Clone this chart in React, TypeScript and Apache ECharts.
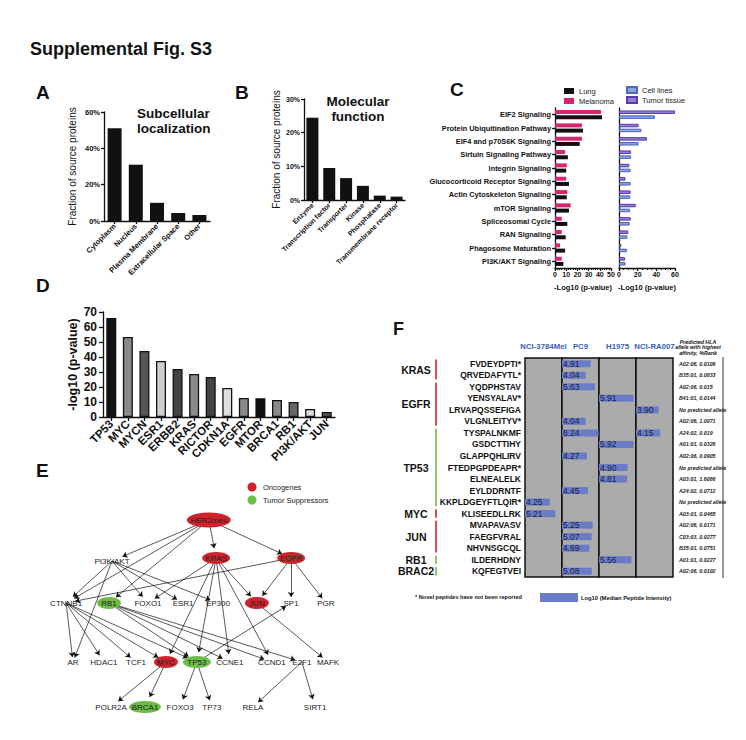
import React, { useEffect, useRef } from 'react';
import * as echarts from 'echarts';

const FONT = '"Liberation Sans", Arial, Helvetica, sans-serif';

// ---------- Panel A ----------
const locCategories = ['Cytoplasm', 'Nucleus', 'Plasma Membrane', 'Extracellular Space', 'Other'];
const locValues = [0.51, 0.31, 0.10, 0.044, 0.033];

// ---------- Panel B ----------
const funcCategories = ['Enzyme', 'Transcription factor', 'Transporter', 'Kinase', 'Phosphatase', 'Transmembrane receptor'];
const funcValues = [0.244, 0.095, 0.065, 0.042, 0.013, 0.010];

// ---------- Panel C ----------
const pathways = [
  'EIF2 Signaling', 'Protein Ubiquitination Pathway', 'EIF4 and p70S6K Signaling', 'Sirtuin Signaling Pathway',
  'Integrin Signaling', 'Glucocorticoid Receptor Signaling', 'Actin Cytoskeleton Signaling', 'mTOR Signaling',
  'Spliceosomal Cycle', 'RAN Signaling', 'Phagosome Maturation', 'PI3K/AKT Signaling',
];
const lungValues = [42, 25, 22, 11.5, 10, 12.5, 10.5, 12.5, 11, 9.5, 9, 7.5];
const melanomaValues = [41, 24, 24, 9, 10.5, 10, 11, 14, 6, 6, 4.5, 6];
const cellLineValues = [38.5, 24, 21, 13, 12.5, 12.5, 12, 12, 11.5, 9, 8.5, 7];
const tumorTissueValues = [60, 21, 30, 13, 11, 7, 12.5, 18, 12.5, 10, 2.5, 6.5];

// ---------- Panel D ----------
const genes = ['TP53', 'MYC', 'MYCN', 'ESR1', 'ERBB2', 'KRAS', 'RICTOR', 'CDKN1A', 'EGFR', 'MTOR', 'BRCA1', 'RB1', 'PI3K/AKT', 'JUN'];
const geneValues = [66, 53.3, 44, 37.3, 32, 28.7, 26.7, 19.3, 12.7, 12.5, 11.3, 10, 5.3, 3.3];
const geneBarColors = ['#111', '#8a8a8a', '#555', '#cfcfcf', '#444', '#8a8a8a', '#444', '#dedede', '#8a8a8a', '#111', '#8a8a8a', '#666', '#dedede', '#555'];

// ---------- Panel E (network: name, column position, level position, kind) ----------
const networkNodes: [string, number, number, string][] = [
  ['HER2/neu', 56.3, 5, 'onc'],
  ['PI3K/AKT', 24, 25.5, 'none'],
  ['KRAS', 58.7, 24, 'onc'],
  ['EGFR', 83.7, 24, 'onc'],
  ['CTNNB1', 8.7, 46.5, 'none'],
  ['RB1', 23, 46.5, 'sup'],
  ['FOXO1', 36, 46.5, 'none'],
  ['ESR1', 47.7, 46.5, 'none'],
  ['EP300', 59.3, 46.5, 'none'],
  ['JUN', 72.3, 46.5, 'onc'],
  ['SP1', 83.7, 46.5, 'none'],
  ['PGR', 95.3, 46.5, 'none'],
  ['AR', 11, 76, 'none'],
  ['HDAC1', 21.3, 76, 'none'],
  ['TCF1', 32, 76, 'none'],
  ['MYC', 42, 76, 'onc'],
  ['TP53', 52.3, 76, 'sup'],
  ['CCNE1', 63.3, 76, 'none'],
  ['CCND1', 77.3, 76, 'none'],
  ['E2F1', 87.3, 76, 'none'],
  ['MAFK', 96, 76, 'none'],
  ['POLR2A', 23.7, 98.5, 'none'],
  ['BRCA1', 35, 98.5, 'sup'],
  ['FOXO3', 46.7, 98.5, 'none'],
  ['TP73', 57.3, 98.5, 'none'],
  ['RELA', 71, 98.5, 'none'],
  ['SIRT1', 91.7, 98.5, 'none'],
];
const networkLinks: [string, string][] = [
  ['HER2/neu', 'PI3K/AKT'], ['HER2/neu', 'CTNNB1'], ['HER2/neu', 'RB1'], ['HER2/neu', 'KRAS'], ['HER2/neu', 'EGFR'],
  ['PI3K/AKT', 'CTNNB1'], ['PI3K/AKT', 'AR'], ['PI3K/AKT', 'FOXO1'], ['PI3K/AKT', 'ESR1'], ['PI3K/AKT', 'EP300'],
  ['KRAS', 'FOXO1'], ['KRAS', 'MYC'], ['KRAS', 'TP53'], ['KRAS', 'CCNE1'], ['KRAS', 'CCND1'], ['KRAS', 'JUN'],
  ['EGFR', 'CTNNB1'], ['EGFR', 'JUN'], ['EGFR', 'SP1'], ['EGFR', 'PGR'],
  ['CTNNB1', 'AR'], ['CTNNB1', 'HDAC1'], ['CTNNB1', 'TCF1'], ['CTNNB1', 'MYC'], ['CTNNB1', 'TP53'],
  ['RB1', 'TP53'], ['RB1', 'CCNE1'], ['RB1', 'CCND1'], ['RB1', 'E2F1'],
  ['JUN', 'MAFK'], ['TP53', 'SP1'],
  ['MYC', 'POLR2A'], ['MYC', 'BRCA1'], ['TP53', 'FOXO3'], ['TP53', 'TP73'],
  ['E2F1', 'RELA'], ['E2F1', 'SIRT1'],
];

// ---------- Panel F ----------
const cellLines = ['NCI-3784Mel', 'PC9', 'H1975', 'NCI-RA007'];
const peptides = [
  'FVDEYDPTI*', 'QRVEDAFYTL*', 'YQDPHSTAV', 'YENSYALAV*', 'LRVAPQSSEFIGA', 'VLGNLEITYV*', 'TYSPALNKMF',
  'GSDCTTIHY', 'GLAPPQHLIRV', 'FTEDPGPDEAPR*', 'ELNEALELK', 'EYLDDRNTF', 'KKPLDGEYFTLQIR*', 'KLISEEDLLRK',
  'MVAPAVASV', 'FAEGFVRAL', 'NHVNSGCQL', 'ILDERHDNY', 'KQFEGTVEI',
];
const intensityMel = ['-', '-', '-', '-', '-', '-', '-', '-', '-', '-', '-', '-', 4.25, 5.21, '-', '-', '-', '-', '-'];
const intensityPC9 = [4.91, 4.04, 5.63, '-', '-', 4.04, 6.24, '-', 4.27, '-', '-', 4.45, '-', '-', 5.25, 5.07, 4.69, '-', 5.08];
const intensityH1975 = ['-', '-', '-', 5.91, '-', '-', '-', 5.92, '-', 4.90, 4.81, '-', '-', '-', '-', '-', '-', 5.56, '-'];
const intensityRA007 = ['-', '-', '-', '-', 3.90, '-', 4.15, '-', '-', '-', '-', '-', '-', '-', '-', '-', '-', '-', '-'];
const hlaAlleles = [
  'A02:06, 0.0106', 'B35:01, 0.0833', 'A02:06, 0.015', 'B41:01, 0.0144', 'No predicted allele', 'A02:06, 1.0071',
  'A24:02, 0.019', 'A01:01, 0.0328', 'A02:06, 0.0905', 'No predicted allele', 'A03:01, 1.6086', 'A24:02, 0.0712',
  'No predicted allele', 'A03:01, 0.0465', 'A02:06, 0.0171', 'C03:03, 0.0277', 'B35:01, 0.0751', 'A01:01, 0.0227',
  'A02:06, 0.0102',
];
const geneGroups: [string, number, number, string][] = [
  ['KRAS', 0, 1, 'onc'], ['EGFR', 2, 5, 'onc'], ['TP53', 6, 12, 'sup'], ['MYC', 13, 13, 'onc'],
  ['JUN', 14, 16, 'onc'], ['RB1', 17, 17, 'sup'], ['BRAC2', 18, 18, 'sup'],
];

const RED = '#d0222b';
const GREEN = '#6cbd45';
const BLK = '#111';

function buildOption() {
  const axLine = { show: true, lineStyle: { color: BLK, width: 1.3 } };
  const axTick = { show: true, length: 3, lineStyle: { color: BLK, width: 1.3 } };
  const noSplit = { show: false };

  // F layout
  const fTop = 358;
  const fHeight = 219;
  const fLefts = [525, 562, 599, 636];
  const fWidth = 37;
  const fMax = 6.33;
  const rowH = fHeight / peptides.length;

  const grids: any[] = [
    { left: 104, top: 112, width: 106, height: 109 }, // A
    { left: 304, top: 99, width: 101, height: 101 }, // B
    { left: 555, top: 108, width: 56, height: 160 }, // C left
    { left: 619, top: 108, width: 56, height: 160 }, // C right
    { left: 103, top: 312, width: 232, height: 105 }, // D
    { left: 40, top: 510, width: 300, height: 200 }, // E
    ...fLefts.map((l) => ({
      left: l, top: fTop, width: fWidth, height: fHeight, show: true,
      backgroundColor: '#ababab', borderColor: BLK, borderWidth: 1.5,
    })),
  ];

  const xAxes: any[] = [
    {
      gridIndex: 0, type: 'category', data: locCategories, axisLine: axLine,
      axisTick: { ...axTick, alignWithLabel: true },
      axisLabel: { rotate: 45, interval: 0, fontSize: 7.5, fontWeight: 'bold', color: BLK, margin: 4 },
    },
    {
      gridIndex: 1, type: 'category', data: funcCategories, axisLine: axLine,
      axisTick: { ...axTick, alignWithLabel: true },
      axisLabel: { rotate: 45, interval: 0, fontSize: 7, fontWeight: 'bold', color: BLK, margin: 4 },
    },
    {
      gridIndex: 2, type: 'value', min: 0, max: 50, interval: 10, axisLine: axLine,
      axisTick: { ...axTick, length: 3 }, minorTick: { show: true, splitNumber: 5, length: 2, lineStyle: { color: BLK } },
      axisLabel: { fontSize: 7, fontWeight: 'bold', color: BLK, margin: 3 }, splitLine: noSplit,
      name: '-Log10 (p-value)', nameLocation: 'middle', nameGap: 15,
      nameTextStyle: { fontSize: 7.5, fontWeight: 'bold', color: BLK },
    },
    {
      gridIndex: 3, type: 'value', min: 0, max: 60, interval: 20, axisLine: axLine,
      axisTick: { ...axTick, length: 3 }, minorTick: { show: true, splitNumber: 4, length: 2, lineStyle: { color: BLK } },
      axisLabel: { fontSize: 7, fontWeight: 'bold', color: BLK, margin: 3 }, splitLine: noSplit,
      name: '-Log10 (p-value)', nameLocation: 'middle', nameGap: 15,
      nameTextStyle: { fontSize: 7.5, fontWeight: 'bold', color: BLK },
    },
    {
      gridIndex: 4, type: 'category', data: genes, axisLine: axLine,
      axisTick: { ...axTick, length: 4, alignWithLabel: true },
      axisLabel: { rotate: 45, interval: 0, fontSize: 11.5, fontWeight: 'bold', color: BLK, margin: 5 },
    },
    { gridIndex: 5, type: 'value', min: 0, max: 100, show: false },
    ...cellLines.map((c, i) => ({
      gridIndex: 6 + i, type: 'value', min: 0, max: fMax, position: 'top',
      axisLine: { show: false }, axisTick: { show: false }, axisLabel: { show: false }, splitLine: noSplit,
      name: c, nameLocation: 'middle', nameGap: 8,
      nameTextStyle: { fontSize: 7.8, fontWeight: 'bold', color: '#3a5bbf' },
    })),
  ];

  const yAxes: any[] = [
    {
      gridIndex: 0, type: 'value', min: 0, max: 0.6, interval: 0.2, axisLine: axLine, axisTick: axTick,
      axisLabel: { formatter: (v: number) => Math.round(v * 100) + '%', fontSize: 7.5, fontWeight: 'bold', color: BLK, margin: 4 },
      splitLine: noSplit, name: 'Fraction of source proteins', nameLocation: 'middle', nameGap: 27,
      nameTextStyle: { fontSize: 10, fontWeight: 500, color: BLK },
    },
    {
      gridIndex: 1, type: 'value', min: 0, max: 0.3, interval: 0.1, axisLine: axLine, axisTick: axTick,
      axisLabel: { formatter: (v: number) => Math.round(v * 100) + '%', fontSize: 7, fontWeight: 'bold', color: BLK, margin: 4 },
      splitLine: noSplit, name: 'Fraction of source proteins', nameLocation: 'middle', nameGap: 23,
      nameTextStyle: { fontSize: 10, fontWeight: 500, color: BLK },
    },
    {
      gridIndex: 2, type: 'category', data: pathways, inverse: true, axisLine: axLine,
      axisTick: { ...axTick, alignWithLabel: true },
      axisLabel: { interval: 0, fontSize: 7.4, fontWeight: 'bold', color: BLK, margin: 4 },
    },
    {
      gridIndex: 3, type: 'category', data: pathways, inverse: true, axisLine: axLine,
      axisTick: { show: false }, axisLabel: { show: false },
    },
    {
      gridIndex: 4, type: 'value', min: 0, max: 70, interval: 10, axisLine: axLine,
      axisTick: { ...axTick, length: 4 },
      axisLabel: { fontSize: 12, fontWeight: 'bold', color: BLK, margin: 6 }, splitLine: noSplit,
      name: '-log10 (p-value)', nameLocation: 'middle', nameGap: 18,
      nameTextStyle: { fontSize: 12.5, fontWeight: 'bold', color: BLK },
    },
    { gridIndex: 5, type: 'value', min: 0, max: 100, inverse: true, show: false },
    ...cellLines.map((c, i) => ({
      gridIndex: 6 + i, type: 'category', data: peptides, inverse: true,
      axisLine: { show: false }, axisTick: { show: false },
      axisLabel: { show: i === 0, interval: 0, fontSize: 8.5, fontWeight: 'bold', color: BLK, margin: 4 },
    })),
    {
      gridIndex: 9, type: 'category', data: hlaAlleles, inverse: true, position: 'right',
      axisLine: { show: false }, axisTick: { show: false },
      axisLabel: { show: true, interval: 0, fontSize: 5.3, fontStyle: 'italic', fontWeight: 'bold', color: '#222', margin: 6 },
    },
  ];

  const nodeSize = (name: string, kind: string) =>
    kind === 'none' ? [name.length * 4.3 + 2, 9] : [name.length * 4 + 12, name.length > 6 ? 15 : 12];

  const series: any[] = [
    { type: 'bar', xAxisIndex: 0, yAxisIndex: 0, data: locValues, barWidth: 14, itemStyle: { color: BLK } },
    { type: 'bar', xAxisIndex: 1, yAxisIndex: 1, data: funcValues, barWidth: 12, itemStyle: { color: BLK } },
    {
      name: 'Melanoma', type: 'bar', xAxisIndex: 2, yAxisIndex: 2, data: melanomaValues, barWidth: 4, barGap: '30%',
      itemStyle: { color: '#d6246e' },
    },
    {
      name: 'Lung', type: 'bar', xAxisIndex: 2, yAxisIndex: 2, data: lungValues, barWidth: 4, barGap: '30%',
      itemStyle: { color: BLK },
    },
    {
      name: 'Tumor tissue', type: 'bar', xAxisIndex: 3, yAxisIndex: 3, data: tumorTissueValues, barWidth: 3.5, barGap: '40%',
      itemStyle: { color: '#8f7fd3', borderColor: '#5a3aa8', borderWidth: 1 },
    },
    {
      name: 'Cell lines', type: 'bar', xAxisIndex: 3, yAxisIndex: 3, data: cellLineValues, barWidth: 3.5, barGap: '40%',
      itemStyle: { color: '#8ea3e0', borderColor: '#4a66b5', borderWidth: 1 },
    },
    {
      type: 'bar', xAxisIndex: 4, yAxisIndex: 4, barWidth: 10,
      data: geneValues.map((v, i) => ({ value: v, itemStyle: { color: geneBarColors[i] } })),
      itemStyle: { borderColor: BLK, borderWidth: 1.3 },
    },
    {
      type: 'graph', coordinateSystem: 'cartesian2d', xAxisIndex: 5, yAxisIndex: 5, silent: true,
      categories: [
        { name: 'onc', itemStyle: { color: RED } },
        { name: 'sup', itemStyle: { color: GREEN } },
        { name: 'none', itemStyle: { color: 'rgba(0,0,0,0)' } },
      ],
      data: networkNodes.map(([name, x, y, kind]) => ({
        name, value: [x, y], category: ['onc', 'sup', 'none'].indexOf(kind), symbol: 'circle',
        symbolSize: nodeSize(name, kind),
      })),
      links: networkLinks.map(([s, t]) => ({ source: s, target: t })),
      edgeSymbol: ['none', 'arrow'],
      edgeSymbolSize: [0, 5],
      lineStyle: { color: '#111', width: 0.7, opacity: 1, curveness: 0 },
      label: { show: true, position: 'inside', fontSize: 8, color: '#222', fontFamily: FONT },
      emphasis: { disabled: true },
    },
    ...[intensityMel, intensityPC9, intensityH1975, intensityRA007].map((vals, i) => ({
      type: 'bar', xAxisIndex: 6 + i, yAxisIndex: 6 + i, data: vals, barWidth: 7,
      itemStyle: { color: '#6a7cc6' },
      label: {
        show: true, position: 'insideLeft', distance: 1, fontSize: 8.5, color: '#1b2145',
        formatter: (p: any) => Number(p.value).toFixed(2),
      },
    })),
  ];

  const txt = (text: string, x: number, y: number, size: number, extra: any = {}) => ({
    type: 'text', x, y, silent: true,
    style: {
      text, fontSize: size, fontFamily: FONT, fontWeight: 'bold', fill: BLK,
      align: 'left', verticalAlign: 'top', textAlign: 'left', textVerticalAlign: 'top', ...extra,
    },
  });

  const graphic: any[] = [
    txt('Supplemental Fig. S3', 30, 40, 18),
    txt('A', 36, 83, 19),
    txt('B', 235, 83, 19),
    txt('C', 450, 80, 19),
    txt('D', 36, 276, 19),
    txt('E', 36, 461, 19),
    txt('F', 393, 320, 18),
    txt('Subcellular', 137, 106, 13.5),
    txt('localization', 137, 121, 13.5),
    txt('Molecular', 358, 94, 13.5, { align: 'center', textAlign: 'center' }),
    txt('function', 358, 109, 13.5, { align: 'center', textAlign: 'center' }),
    // E legend
    { type: 'circle', shape: { cx: 252, cy: 487, r: 4.5 }, style: { fill: RED }, silent: true },
    { type: 'circle', shape: { cx: 252, cy: 500, r: 4.5 }, style: { fill: GREEN }, silent: true },
    txt('Oncogenes', 263, 487, 7.5, { fontWeight: 'normal', verticalAlign: 'middle', textVerticalAlign: 'middle', fill: '#222' }),
    txt('Tumor Suppressors', 263, 500, 7.5, { fontWeight: 'normal', verticalAlign: 'middle', textVerticalAlign: 'middle', fill: '#222' }),
    // F HLA header
    txt('Predicted HLA', 698, 339, 5.3, { align: 'center', textAlign: 'center', fontStyle: 'italic' }),
    txt('allele with highest', 698, 344.5, 5.3, { align: 'center', textAlign: 'center', fontStyle: 'italic' }),
    txt('affinity, %Rank', 698, 350, 5.3, { align: 'center', textAlign: 'center', fontStyle: 'italic' }),
    { type: 'line', shape: { x1: 723, y1: 357, x2: 723, y2: 578 }, style: { stroke: '#333', lineWidth: 1 }, silent: true },
    // F footer
    txt('* Novel peptides have not been reported', 415, 597, 5.6, { verticalAlign: 'middle', textVerticalAlign: 'middle' }),
    { type: 'rect', shape: { x: 540, y: 593, width: 38, height: 9 }, style: { fill: '#6a7cc6' }, silent: true },
    txt('Log10 (Median Peptide Intensity)', 581, 597.5, 5.8, { verticalAlign: 'middle', textVerticalAlign: 'middle' }),
  ];

  geneGroups.forEach(([gene, s, e, kind]) => {
    const y1 = fTop + s * rowH + 1.5;
    const y2 = fTop + (e + 1) * rowH - 1.5;
    graphic.push({
      type: 'line', shape: { x1: 436, y1, x2: 436, y2 }, silent: true,
      style: { stroke: kind === 'onc' ? RED : GREEN, lineWidth: 1.6 },
    });
    graphic.push(txt(gene, 416, (y1 + y2) / 2, 10.5, {
      align: 'center', textAlign: 'center', verticalAlign: 'middle', textVerticalAlign: 'middle',
    }));
  });

  return {
    animation: false,
    backgroundColor: '#fff',
    textStyle: { fontFamily: FONT },
    grid: grids,
    xAxis: xAxes,
    yAxis: yAxes,
    legend: [
      {
        data: ['Lung', 'Melanoma'], left: 559, top: 82, orient: 'vertical', icon: 'rect',
        itemWidth: 10, itemHeight: 6, itemGap: 2, selectedMode: false,
        textStyle: { fontSize: 7.5, color: '#222', fontFamily: FONT },
      },
      {
        data: ['Cell lines', 'Tumor tissue'], left: 621, top: 81, orient: 'vertical', icon: 'rect',
        itemWidth: 10, itemHeight: 6, itemGap: 2, selectedMode: false,
        textStyle: { fontSize: 7.5, color: '#222', fontFamily: FONT },
      },
    ],
    series,
    graphic,
  };
}

export default function App() {
  const ref = useRef<HTMLDivElement>(null);
  useEffect(() => {
    const chart = echarts.init(ref.current as HTMLDivElement, null, { renderer: 'svg' });
    chart.setOption(buildOption() as any);
    return () => chart.dispose();
  }, []);
  return (
    <div
      ref={ref}
      style={{ position: 'fixed', left: 0, top: 0, width: 746, height: 740, background: '#fff' }}
    />
  );
}
